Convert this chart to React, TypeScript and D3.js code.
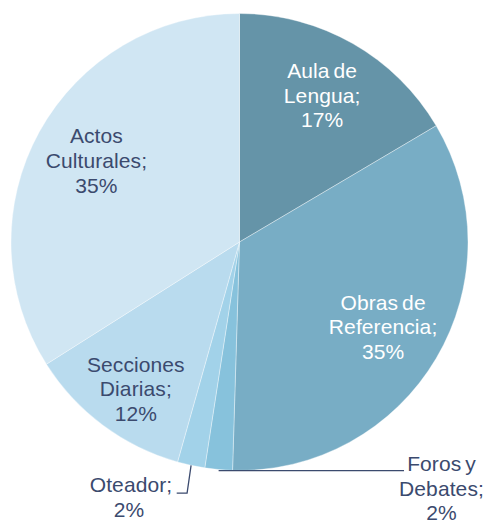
import React, { useEffect } from 'react';
import * as d3 from 'd3';

// slice data, clockwise from 12 o'clock
const categories = ['Aula de Lengua', 'Obras de Referencia', 'Foros y Debates', 'Oteador', 'Secciones Diarias', 'Actos Culturales'];
const values = [17, 35, 2, 2, 12, 35];
// how each label is broken into lines (last line is the value)
const labelLines = [
  ['Aula de', 'Lengua;'],
  ['Obras de', 'Referencia;'],
  ['Foros y', 'Debates;'],
  ['Oteador;'],
  ['Secciones', 'Diarias;'],
  ['Actos', 'Culturales;'],
];

const colors = ['#6594A8', '#78ADC5', '#87C2DC', '#A2D2E9', '#B9DBEE', '#D0E6F3'];
const textDark = '#3B4A6E';

const width = 488;
const height = 523;
const cx = 239.5;
const cy = 242;
const radius = 228.5;
const fontSize = 21;
const lineH = 24.8;

// labels that sit outside the pie, with leader lines
type Outside = { dx: number; dy: number; anchorX: number; elbow?: boolean };
const outside: Record<number, Outside> = {
  2: { dx: 202, dy: 246, anchorX: 404 },
  3: { dx: -110.5, dy: 255, anchorX: 176.7, elbow: true },
};

const App = () => {
  useEffect(() => {
    document.body.style.margin = '0';
  }, []);

  const pie = d3.pie<number>().value((d) => d).sort(null);
  const arcs = pie(values);
  const arc = d3.arc<d3.PieArcDatum<number>>().innerRadius(0).outerRadius(radius);
  const labelArc = d3.arc<d3.PieArcDatum<number>>().innerRadius(radius * 0.73).outerRadius(radius * 0.73);
  const edgeArc = d3.arc<d3.PieArcDatum<number>>().innerRadius(radius).outerRadius(radius);

  return (
    <svg width={width} height={height} style={{ display: 'block' }} fontFamily="'Liberation Sans', Arial, sans-serif">
      <rect width={width} height={height} fill="#ffffff" />
      <g transform={`translate(${cx},${cy})`}>
        {arcs.map((a, i) => (
          <path key={categories[i]} d={arc(a) || ''} fill={colors[i]} stroke="#ffffff" strokeOpacity={0.6} strokeWidth={0.6} />
        ))}
        {arcs.map((a, i) => {
          const lines = [...labelLines[i], `${values[i]}%`];
          const o = outside[i];
          const fill = i < 2 ? '#ffffff' : textDark;
          let lx: number;
          let ly: number;
          let leader: string | null = null;
          if (o) {
            lx = o.dx;
            ly = o.dy;
            const [ex, ey] = edgeArc.centroid(a);
            if (o.elbow) {
              const by = ly - lineH / 2 + 8.5;
              leader = `M${ex},${ey}L${ex - 4},${by}L${o.anchorX - cx},${by}`;
            } else {
              leader = `M${ex},${ey + 1}L${o.anchorX - cx},${ey + 1}`;
            }
          } else {
            [lx, ly] = labelArc.centroid(a);
            if (i === 0) ly -= 2;
            if (i === 4) {
              lx += -4;
              ly += 13;
            }
            if (i === 5) {
              lx += 3;
              ly += -1;
            }
          }
          const top = ly - ((lines.length - 1) * lineH) / 2;
          return (
            <g key={`lab-${categories[i]}`}>
              {leader && <path d={leader} fill="none" stroke={textDark} strokeWidth={1.3} />}
              <text textAnchor="middle" fill={fill} fontSize={fontSize} letterSpacing={0.1} wordSpacing={-2}>
                {lines.map((t, j) => (
                  <tspan key={j} x={o && j === 0 && i === 3 ? lx + 2 : lx} y={top + j * lineH} dy="0.36em">
                    {t}
                  </tspan>
                ))}
              </text>
            </g>
          );
        })}
      </g>
    </svg>
  );
};

export default App;
